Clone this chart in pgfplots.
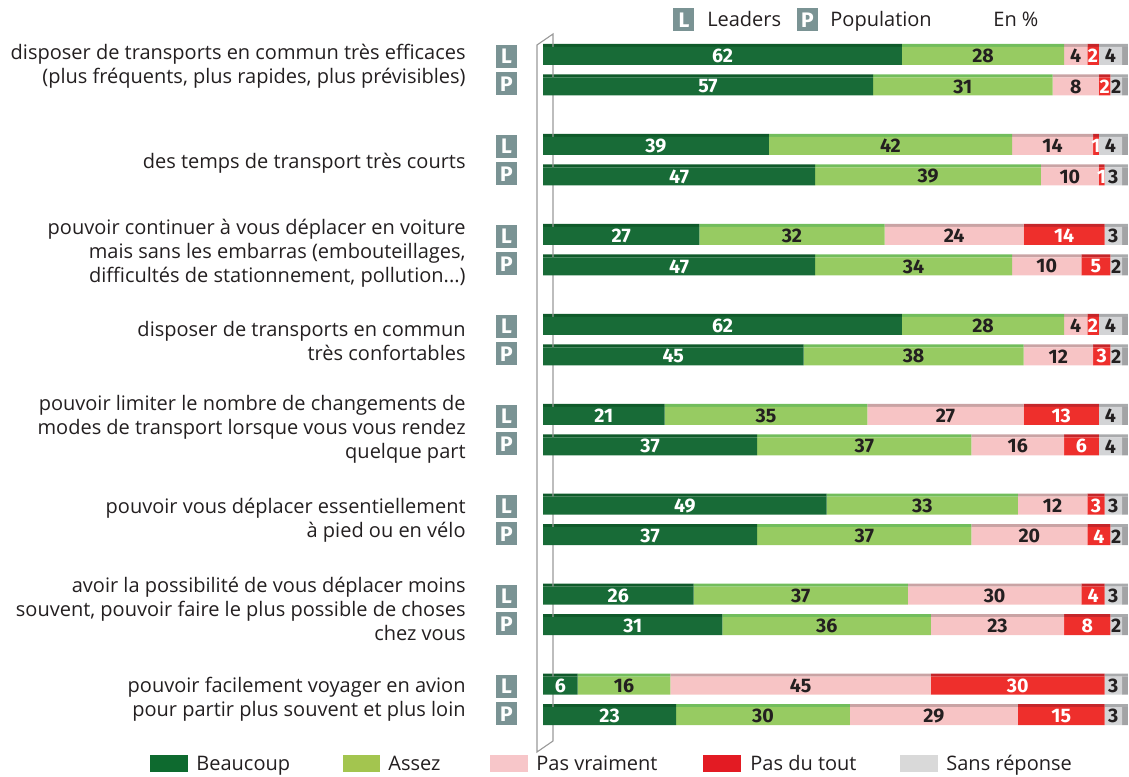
\documentclass[border=0pt]{standalone}
\usepackage{pgfplots}
\pgfplotsset{compat=1.18}
\usepackage{pgfplotstable}
\usepackage{fontspec}
\setmainfont{Open Sans}
\newfontfamily\numfont{Fira Sans}
\definecolor{cdg}{HTML}{186B37}
\definecolor{clg}{HTML}{97CB62}
\definecolor{cpk}{HTML}{F7C4C5}
\definecolor{crd}{HTML}{EE2F2C}
\definecolor{cgy}{HTML}{D3D4D6}
\definecolor{csd}{HTML}{A2A3A5}
\definecolor{tdg}{HTML}{0F5A2A}
\definecolor{tlg}{HTML}{72BD5C}
\definecolor{tpk}{HTML}{C9A3A4}
\definecolor{trd}{HTML}{C4262A}
\definecolor{tgy}{HTML}{A9AAAC}
\definecolor{ldg}{HTML}{0E6A2F}
\definecolor{llg}{HTML}{A3C54F}
\definecolor{lpk}{HTML}{F7C6C9}
\definecolor{lrd}{HTML}{E31B23}
\definecolor{lgy}{HTML}{D9D9D9}
\definecolor{badge}{HTML}{7A9394}
\definecolor{txt}{HTML}{231F20}

\pgfplotstableread{
y a b c d e s la lb lc ld le
-56 62 28 4 2 4 1 62 28 4 2 4
-86.5 57 31 8 2 2 1 57 31 8 2 2
-146 39 42 14 1 4 1 39 42 14 1 4
-176.5 47 39 10 1 3 1 47 39 10 1 3
-235.9 27 32 24 14 3 1 27 32 24 14 3
-266.4 47 34 12 5 2 1 47 34 10 5 2
-325.85 62 28 4 2 4 1 62 28 4 2 4
-356.35 45 38 12 3 2 1 45 38 12 3 2
-415.8 21 35 27 13 4 1 21 35 27 13 4
-446.3 37 37 16 6 4 1 37 37 16 6 4
-505.75 49 33 12 3 3 1 49 33 12 3 3
-536.25 37 37 20 4 2 1 37 37 20 4 2
-595.7 26 37 30 4 3 1 26 37 30 4 3
-626.2 31 36 23 8 2 1 31 36 23 8 2
-685.65 6 16 45 30 3 1 6 16 45 30 3
-716.15 23 30 29 15 3 1 23 30 29 15 3
}\data

\pgfplotsset{base/.style={scale only axis, width=564.5pt, height=388pt,
  xmin=-93.782, xmax=101.209, ymin=-776, ymax=0, hide axis, clip=false,
  xbar stacked, at={(0,0)}, anchor=south west}}
\pgfplotsset{lab/.style={nodes near coords, point meta=explicit symbolic,
  every node near coord/.style={anchor=center, inner sep=0pt,
  font=\numfont\bfseries\fontsize{9.8}{10}\selectfont}}}
\tikzset{bdg/.style={fill=badge, text=white, inner sep=0pt, minimum width=10.5pt, minimum height=11.5pt, font=\numfont\bfseries\fontsize{10.5}{10}\selectfont}}

\begin{document}
\begin{tikzpicture}
% top faces and the wall
\begin{axis}[base, bar width=3]
\path (rel axis cs:0,0) rectangle (rel axis cs:1,1);
\draw[color=gray!80, line width=0.55pt] (axis cs:-1.036,-45) -- (axis cs:-1.036,-752) -- (axis cs:1.727,-741) -- (axis cs:1.727,-34) -- cycle;
\addplot[fill=tdg, draw=none] table[x=a, y expr=\thisrow{y}+10.5]{\data};
\addplot[fill=tlg, draw=none] table[x=b, y expr=\thisrow{y}+10.5]{\data};
\addplot[fill=tpk, draw=none] table[x=c, y expr=\thisrow{y}+10.5]{\data};
\addplot[fill=trd, draw=none] table[x=d, y expr=\thisrow{y}+10.5]{\data};
\addplot[fill=tgy, draw=none] table[x=e, y expr=\thisrow{y}+10.5]{\data};
\addplot[fill=tgy, draw=none] table[x=s, y expr=\thisrow{y}+10.5]{\data};
\end{axis}
\begin{axis}[base, bar width=18]
\path (rel axis cs:0,0) rectangle (rel axis cs:1,1);
\addplot[fill=cdg, draw=none, lab, every node near coord/.append style={text=white}] table[x=a, y=y, meta=la]{\data};
\addplot[fill=clg, draw=none, lab, every node near coord/.append style={text=txt}] table[x=b, y=y, meta=lb]{\data};
\addplot[fill=cpk, draw=none, lab, every node near coord/.append style={text=txt}] table[x=c, y=y, meta=lc]{\data};
\addplot[fill=crd, draw=none, lab, every node near coord/.append style={text=white}] table[x=d, y=y, meta=ld]{\data};
\addplot[fill=cgy, draw=none, lab, every node near coord/.append style={text=txt}] table[x=e, y=y, meta=le]{\data};
\addplot[fill=csd, draw=none] table[x=s, y=y]{\data};

% badges
\pgfplotsinvokeforeach{-56.5,-146.5,-236.5,-326.5,-416.5,-506.5,-596.5,-686.5}{
  \node[bdg] at (axis cs:-6.3,#1) {L};}
\pgfplotsinvokeforeach{-84,-174,-264,-354,-444,-534,-624,-714}{
  \node[bdg] at (axis cs:-6.3,#1) {P};}

% row labels
\tikzset{rl/.style={anchor=east, align=right, text=txt, font=\fontsize{10}{12}\selectfont, inner sep=0pt}}
\node[rl] at (axis cs:-13.3,-66.5) {disposer de transports en commun très efficaces\\(plus fréquents, plus rapides, plus prévisibles)};
\node[rl] at (axis cs:-13.3,-163.5) {des temps de transport très courts};
\node[rl] at (axis cs:-13.3,-253.5) {pouvoir continuer à vous déplacer en voiture\\mais sans les embarras (embouteillages,\\difficultés de stationnement, pollution...)};
\node[rl] at (axis cs:-13.3,-341.5) {disposer de transports en commun\\très confortables};
\node[rl] at (axis cs:-13.3,-429.5) {pouvoir limiter le nombre de changements de\\modes de transport lorsque vous vous rendez\\quelque part};
\node[rl] at (axis cs:-13.3,-520.5) {pouvoir vous déplacer essentiellement\\à pied ou en vélo};
\node[rl] at (axis cs:-13.3,-608.5) {avoir la possibilité de vous déplacer moins\\souvent, pouvoir faire le plus possible de choses\\chez vous};
\node[rl] at (axis cs:-13.3,-699.5) {pouvoir facilement voyager en avion\\pour partir plus souvent et plus loin};

% top legend
\tikzset{lt/.style={anchor=base west, text=txt, font=\fontsize{10}{11}\selectfont, inner sep=0pt}}
\node[bdg] at (axis cs:24.35,-20) {L};
\node[lt] at (axis cs:28.3,-27) {Leaders};
\node[bdg] at (axis cs:45.68,-20) {P};
\node[lt] at (axis cs:49.57,-27) {Population};
\node[lt] at (axis cs:77.72,-27) {En \%};

% bottom legend
\fill[ldg] (axis cs:-67.88,-754.5) rectangle (axis cs:-61.31,-771.5);
\node[lt] at (axis cs:-59.93,-770) {Beaucoup};
\fill[llg] (axis cs:-34.54,-754.5) rectangle (axis cs:-28.15,-771.5);
\node[lt] at (axis cs:-26.77,-770) {Assez};
\fill[lpk] (axis cs:-9.15,-754.5) rectangle (axis cs:-2.59,-771.5);
\node[lt] at (axis cs:-1.21,-770) {Pas vraiment};
\fill[lrd] (axis cs:27.63,-754.5) rectangle (axis cs:34.20,-771.5);
\node[lt] at (axis cs:35.75,-770) {Pas du tout};
\fill[lgy] (axis cs:61.66,-754.5) rectangle (axis cs:68.22,-771.5);
\node[lt] at (axis cs:69.60,-770) {Sans réponse};
\end{axis}
\end{tikzpicture}
\end{document}
